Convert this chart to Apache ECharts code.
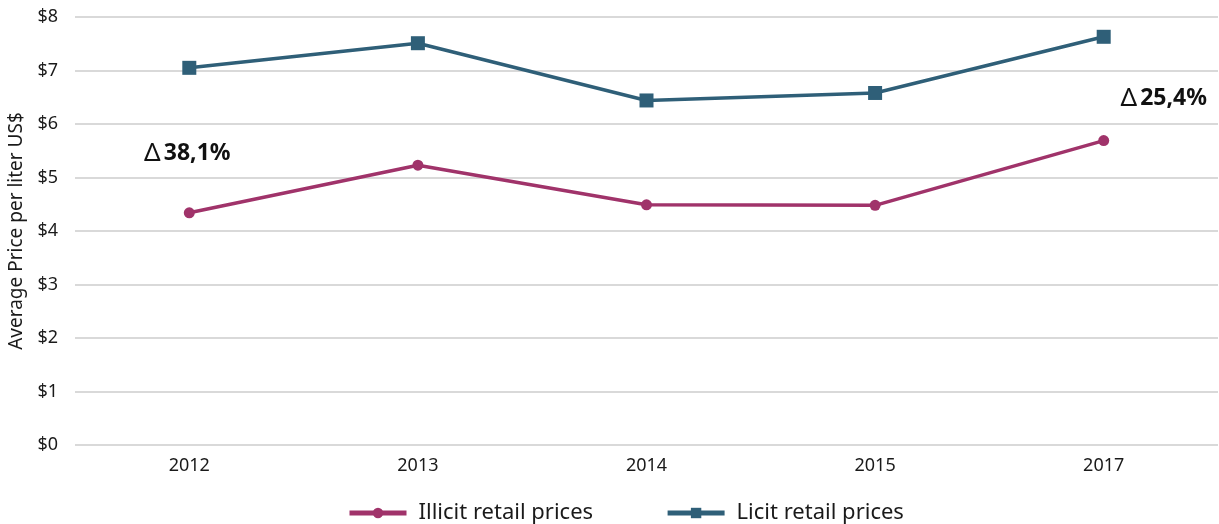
<!DOCTYPE html>
<html>
<head>
<meta charset="utf-8">
<script src="https://cdn.jsdelivr.net/npm/echarts@6/dist/echarts.min.js"></script>
<style>
  html, body { margin: 0; padding: 0; background: #fff; }
  #chart { width: 1219px; height: 524px; }
</style>
</head>
<body>
<div id="chart"></div>
<script>
// categories and values
const years = ['2012', '2013', '2014', '2015', '2017']
const illicitPrices = [4.34, 5.23, 4.49, 4.48, 5.69]
const licitPrices = [7.05, 7.51, 6.44, 6.58, 7.63]
const yTicks = [0, 1, 2, 3, 4, 5, 6, 7, 8]
// gap labels: [category, value position, text, x shift]
const gapLabels = [
  ['2012', 5.45, '38,1%', -2],
  ['2017', 6.48, '25,4%', 60]
]

const FONT = '"Noto Sans", sans-serif'
const chart = echarts.init(document.getElementById('chart'))

chart.setOption({
  animation: false,
  textStyle: { fontFamily: FONT },
  grid: { left: 75, right: 1, top: 17, bottom: 79, outerBoundsMode: 'none' },
  legend: {
    top: 497,
    left: 342,
    itemWidth: 57,
    itemHeight: 13,
    itemGap: 72,
    lineStyle: { width: 5 },
    textStyle: { fontSize: 22, color: '#1a1a1a', fontFamily: FONT, padding: [0, 0, 0, 7] },
    data: ['Illicit retail prices', 'Licit retail prices']
  },
  xAxis: {
    type: 'category',
    data: years,
    axisLine: { show: false },
    axisTick: { show: false },
    axisLabel: { color: '#1a1a1a', fontSize: 18, margin: 12 }
  },
  yAxis: {
    type: 'value',
    min: yTicks[0],
    max: yTicks[yTicks.length - 1],
    interval: 1,
    name: 'Average Price per liter US$',
    nameLocation: 'middle',
    nameGap: 48,
    nameTextStyle: { fontSize: 19, color: '#1a1a1a' },
    axisLabel: {
      color: '#1a1a1a',
      fontSize: 18,
      margin: 17,
      formatter: v => '$' + v
    },
    splitLine: { lineStyle: { color: '#d9d9d9', width: 2 } }
  },
  series: [
    {
      name: 'Illicit retail prices',
      type: 'line',
      data: illicitPrices,
      symbol: 'circle',
      symbolSize: 11,
      itemStyle: { color: '#a0336a' },
      lineStyle: { width: 3.5, color: '#a0336a' },
      markPoint: {
        symbol: 'rect',
        symbolSize: 1,
        itemStyle: { color: 'transparent' },
        label: {
          show: true,
          formatter: p => '{d|Δ} {v|' + p.name + '}',
          rich: {
            d: { fontSize: 26, color: '#111', fontFamily: FONT },
            v: { fontSize: 23, fontWeight: 'bold', color: '#111', fontFamily: FONT }
          }
        },
        data: gapLabels.map(g => ({
          name: g[2],
          coord: [g[0], g[1]],
          label: { offset: [g[3], 0] }
        }))
      }
    },
    {
      name: 'Licit retail prices',
      type: 'line',
      data: licitPrices,
      symbol: 'rect',
      symbolSize: 14,
      itemStyle: { color: '#2f5f78' },
      lineStyle: { width: 3.5, color: '#2f5f78' }
    }
  ]
})
</script>
</body>
</html>
